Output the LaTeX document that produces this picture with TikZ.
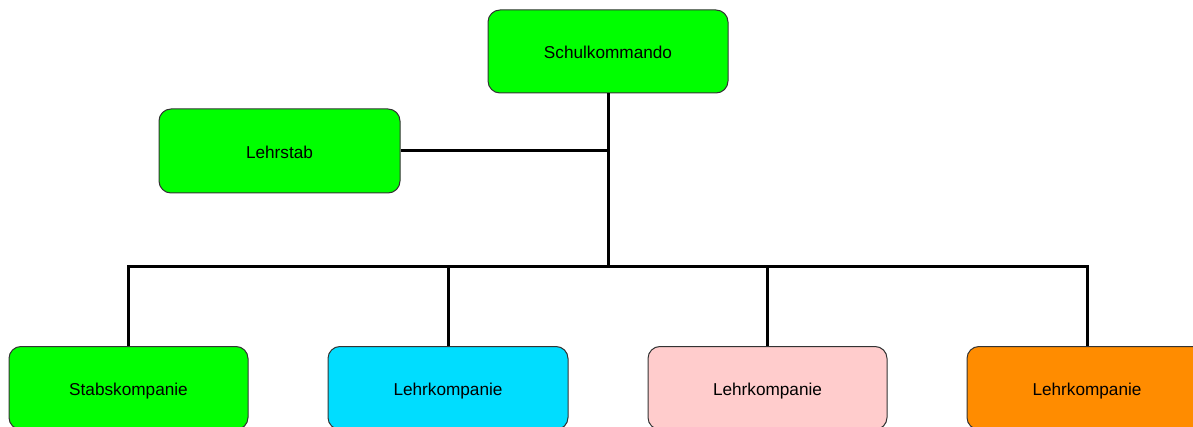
\documentclass[tikz,border=0pt]{standalone}
\usepackage{fontspec}
\newfontfamily\lab{Liberation Sans}
\definecolor{cgreen}{HTML}{00FF00}
\definecolor{cblue}{HTML}{00DDFF}
\definecolor{cpink}{HTML}{FFCCCC}
\definecolor{corange}{HTML}{FF8C00}
\begin{document}
\begin{tikzpicture}[x=1pt,y=-1pt,
  box/.style={draw=black!80,line width=1pt,rounded corners=12pt,minimum width=240pt,minimum height=83pt,inner sep=0pt,
    text height=14.6pt,text depth=0pt,
    font=\lab\fontsize{17.2pt}{20pt}\selectfont},
  conn/.style={line width=3pt,draw=black}]
\useasboundingbox (0,0) rectangle (1193,427);
\clip (0,0) rectangle (1193,427);
\fill[white] (0,0) rectangle (1193,427);
\node[box,fill=cgreen] (sk) at (608,51.5) {Schulkommando};
\node[box,fill=cgreen,minimum width=241pt,minimum height=84pt] (ls) at (279.5,151) {Lehrstab};
\node[box,fill=cgreen,minimum width=239pt] (b1) at (128.5,388) {Stabskompanie};
\node[box,fill=cblue] (b2) at (448,388) {Lehrkompanie};
\node[box,fill=cpink,minimum width=239pt] (b3) at (767.5,388) {Lehrkompanie};
\node[box,fill=corange] (b4) at (1087,388) {Lehrkompanie};
\coordinate (j) at (608,267);
\draw[conn] (sk.south) -- (j);
\draw[conn] (ls.east) -- (ls.east -| sk.south);
\draw[conn] (b1.north) -- (b1.north |- j) -- (b4.north |- j) -- (b4.north);
\draw[conn] (b2.north) -- (b2.north |- j);
\draw[conn] (b3.north) -- (b3.north |- j);
\end{tikzpicture}
\end{document}
